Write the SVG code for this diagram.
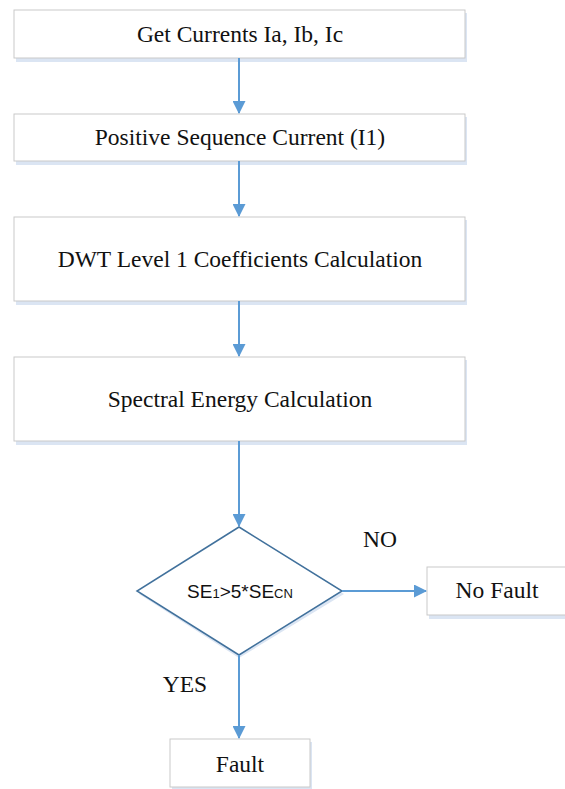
<svg xmlns="http://www.w3.org/2000/svg" width="565" height="789" viewBox="0 0 565 789">
<style>
.box{fill:#fff;stroke:#c9c9c9;stroke-width:1}
.sh{fill:#dbe5f3}
.t{font-family:"Liberation Serif","Times New Roman",serif;font-size:23.5px;fill:#111;text-anchor:middle}
.c{stroke:#5b9bd5;stroke-width:2;fill:none;marker-end:url(#ah)}
</style>
<defs>
<marker id="ah" markerWidth="13" markerHeight="13" refX="12" refY="6.5" orient="auto" markerUnits="userSpaceOnUse" viewBox="0 0 13 13">
<path d="M0,0 L13,6.5 L0,13 z" fill="#5b9bd5"/>
</marker>
</defs>
<rect width="565" height="789" fill="#fff"/>
<g id="n1">
<rect class="sh" x="16" y="13" width="451" height="49"/>
<rect class="box" x="14" y="10" width="451" height="48"/>
<text class="t" x="240" y="42">Get Currents Ia, Ib, Ic</text>
</g>
<g id="n2">
<rect class="sh" x="16" y="117" width="451" height="48"/>
<rect class="box" x="14" y="114" width="451" height="47"/>
<text class="t" x="240" y="145">Positive Sequence Current (I1)</text>
</g>
<g id="n3">
<rect class="sh" x="16" y="220" width="451" height="85"/>
<rect class="box" x="14" y="217" width="451" height="84"/>
<text class="t" x="240" y="267">DWT Level 1 Coefficients Calculation</text>
</g>
<g id="n4">
<rect class="sh" x="16" y="360" width="451" height="85"/>
<rect class="box" x="14" y="357" width="451" height="84"/>
<text class="t" x="240" y="407">Spectral Energy Calculation</text>
</g>
<g id="n5">
<polygon points="239,530 139,594 239,658 344,594" fill="#dbe5f3"/>
<polygon points="239,527 137,591 239,655 342,591" fill="#fff" stroke="#41719c" stroke-width="1.5"/>
<text x="240" y="598" font-family="'Liberation Sans',Arial,sans-serif" font-size="19" fill="#111" text-anchor="middle">SE<tspan font-size="13">1</tspan>&gt;5*SE<tspan font-size="13">CN</tspan></text>
</g>
<g id="n6">
<rect class="sh" x="429" y="570" width="136" height="49"/>
<rect class="box" x="427" y="567" width="140" height="48"/>
<text class="t" x="497" y="598">No Fault</text>
</g>
<g id="n7">
<rect class="sh" x="172" y="742" width="140" height="47"/>
<rect class="box" x="170" y="739" width="140" height="48"/>
<text class="t" x="240" y="772">Fault</text>
</g>
<g id="connectors">
<line class="c" x1="239" y1="58" x2="239" y2="113"/>
<line class="c" x1="239" y1="161" x2="239" y2="216"/>
<line class="c" x1="239" y1="301" x2="239" y2="356"/>
<line class="c" x1="239" y1="441" x2="239" y2="526"/>
<line class="c" x1="342" y1="591" x2="426" y2="591"/>
<line class="c" x1="239" y1="655" x2="239" y2="738"/>
<text class="t" x="380" y="547">NO</text>
<text class="t" x="185" y="692">YES</text>
</g>
</svg>
